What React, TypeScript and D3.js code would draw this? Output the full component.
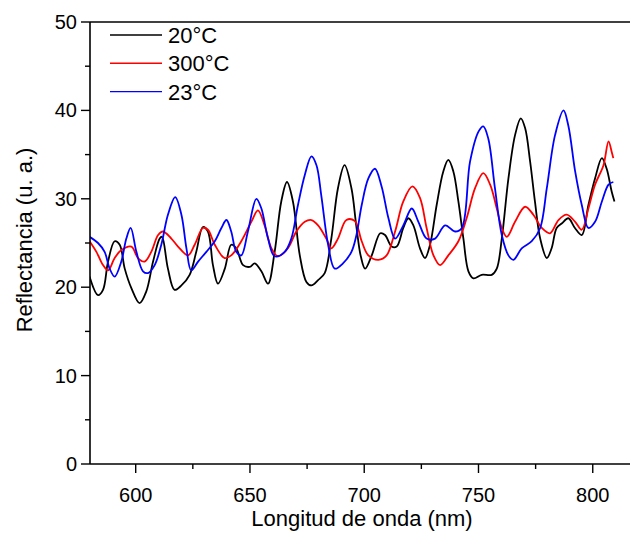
import React from "react";
import * as d3 from "d3";

const xTickValues = [600, 650, 700, 750, 800];
const yTickValues = [0, 10, 20, 30, 40, 50];
const seriesNames = ["20°C", "300°C", "23°C"];
const seriesColors = ["#000000", "#ff0000", "#0000ff"];

// [wavelength nm, reflectance]
const black20: [number, number][] = [
  [579.8, 21.2], [583.5, 19.1], [585.7, 19.7], [587.9, 22.9], [590.8, 25.2], [593, 24.8], [595.2, 22.1],
  [598.1, 19.9], [601.7, 18.2], [604.6, 19.5], [607.6, 22.9], [610.5, 25.5], [611.5, 25.7], [614.1, 22.1],
  [617, 19.7], [620, 20.2], [623.6, 21.4], [626.5, 24], [629.4, 26.8], [631.6, 26.3], [633.8, 22.5],
  [636, 20.4], [639, 22.1], [641.8, 24.8], [644, 24.4], [647, 22.5], [649.9, 22.3], [652.1, 22.7],
  [655, 21.8], [657.9, 20.4], [660.8, 24], [663.7, 29.7], [666.2, 31.9], [668.8, 29.7], [671.8, 23.6],
  [674.7, 20.6], [676.9, 20.2], [679.8, 20.8], [682.7, 21.6], [685.6, 25.5], [688.5, 31.2], [691.4, 33.8],
  [694.4, 31.2], [696.5, 27], [698.5, 23.5], [700.4, 22.1], [703.3, 23.6], [707, 26.1], [709.1, 25.9],
  [712, 24.6], [714.2, 24.6], [717.1, 26.7], [719.3, 27.8], [721.5, 27], [724.4, 24.4], [726.6, 23.3],
  [728.8, 24.8], [731.7, 29.3], [734.6, 33.1], [736.8, 34.4], [739, 33.1], [741.2, 29.7], [743.4, 25.5],
  [745.6, 21.8], [747.8, 21], [751.4, 21.4], [755.8, 21.4], [758, 22.1], [760.2, 25.5], [763.1, 32.3],
  [766, 37.2], [768.5, 39.1], [770.4, 38], [772.6, 34.2], [774.7, 29.7], [777, 25.5], [779.9, 23.3],
  [782, 24.4], [784.2, 26.7], [786.4, 27.2], [789.3, 27.8], [792.2, 26.7], [795.2, 25.9], [798.1, 29.3],
  [801, 32.3], [804, 34.6], [806.1, 33.4], [808.3, 30.8], [809.5, 29.7],
];

const red300: [number, number][] = [
  [579.8, 25.2], [582.8, 24], [585.7, 22.5], [587.9, 21.9], [590.8, 23.3], [593.7, 24.2], [598.1, 24.6],
  [601, 23.3], [603.9, 22.9], [606.8, 24], [609.8, 25.9], [611.9, 26.3], [615.6, 25.5], [618.5, 24.6],
  [622.9, 23.6], [625.8, 24.8], [629.4, 26.7], [631.6, 26.5], [634.6, 24.8], [638.9, 23.3], [641.8, 23.6],
  [646.2, 25.2], [650.6, 27.4], [653.5, 28.7], [656.4, 27], [659.4, 24.4], [662.3, 23.5], [666.6, 24.4],
  [670.3, 26.3], [674, 27.4], [676.9, 27.6], [679.8, 27], [683.4, 25.5], [685.6, 24.4], [688.5, 25.5],
  [692.2, 27.6], [695.8, 27.5], [698.9, 25.2], [701.8, 23.6], [706.2, 23.1], [709.8, 23.6], [713.5, 26.3],
  [717.1, 29.7], [721.1, 31.4], [724.4, 30.1], [727.3, 26.7], [730.3, 23.6], [733.2, 22.5], [736.8, 23.6],
  [741.2, 25.2], [744.8, 27.8], [748.5, 31.2], [752.1, 32.9], [755.1, 31.6], [758, 28.9], [760.2, 26.7],
  [762.4, 25.7], [766, 27.4], [770.4, 29.1], [774, 28.2], [777.7, 26.7], [781.3, 26.1], [785, 27.6],
  [788.6, 28.2], [792.3, 27.4], [795.2, 26.5], [798.1, 28.9], [801, 31.6], [804.7, 33.8], [806.9, 36.5],
  [808.3, 35.3], [809, 34.6],
];

const blue23: [number, number][] = [
  [579.8, 25.7], [583.5, 25], [586.4, 24], [588.6, 22.1], [590.8, 21.2], [593.7, 22.9], [595.9, 25.5],
  [597.8, 26.7], [600.3, 24], [603.2, 21.8], [605.4, 21.6], [608.3, 22.5], [611.2, 24.8], [614.1, 28.2],
  [617.3, 30.2], [620, 28.2], [622.2, 24.4], [624.3, 21.9], [627.3, 22.9], [630.9, 24], [634.6, 25.2],
  [637.5, 26.7], [639.7, 27.6], [641.8, 26.3], [644, 24], [646.2, 23.6], [649.1, 26.3], [652.8, 30],
  [655, 28.9], [657.9, 25.5], [660.8, 23.5], [665.2, 24], [668.1, 25.5], [671, 29.3], [674, 32.7],
  [676.9, 34.8], [679.1, 33.8], [681.2, 30.4], [684.2, 24.8], [687.1, 22.1], [690.7, 22.7], [694.4, 24],
  [696.5, 25.8], [698.9, 29.3], [701.8, 32.3], [704.7, 33.4], [707.6, 31.4], [710.6, 27.8], [713.5, 25.5],
  [717.1, 27], [720.8, 28.9], [723.7, 27.4], [727.3, 25.5], [731, 25.5], [735.4, 27], [739.7, 26.3],
  [742.7, 26.7], [746.3, 34.2], [750, 37.6], [752.1, 38.2], [754.3, 36.8], [757.2, 31.2], [760.2, 25.9],
  [763.1, 23.6], [765.3, 23.1], [768.9, 24.4], [773.3, 25.2], [777, 26.7], [779.9, 31.2], [783.5, 37.2],
  [787.2, 40], [789.3, 38.3], [792.3, 33.1], [795.2, 29.3], [798.1, 26.7], [801, 27.4], [804, 29.7],
  [806.9, 31.6], [809, 31.9],
];

const allSeries = [black20, red300, blue23];

export default function App() {
  const W = 630, H = 533;
  const x = d3.scaleLinear().domain([580, 816.3]).range([90, 630]);
  const y = d3.scaleLinear().domain([0, 50]).range([464, 22]);
  const line = d3
    .line<[number, number]>()
    .x((d) => x(d[0]))
    .y((d) => y(d[1]))
    .curve(d3.curveCatmullRom.alpha(0.5));

  const yMinor = d3.range(5, 50, 10);
  const xMinor = [625, 675, 725, 775];
  const font = "'Liberation Sans', Arial, sans-serif";

  return (
    <svg
      width={W}
      height={H}
      style={{ position: "absolute", left: 0, top: 0, background: "#fff" }}
      fontFamily={font}
    >
      <rect x={0} y={0} width={W} height={H} fill="#fff" />
      <defs>
        <clipPath id="plotclip">
          <rect x={90} y={22} width={540} height={442} />
        </clipPath>
      </defs>
      <g clipPath="url(#plotclip)">
        {allSeries.map((s, i) => (
          <path
            key={i}
            d={line(s) || ""}
            fill="none"
            stroke={seriesColors[i]}
            strokeWidth={1.8}
            strokeLinejoin="round"
          />
        ))}
      </g>
      {/* frame */}
      <line x1={90} x2={630} y1={22} y2={22} stroke="#000" strokeWidth={1.6} />
      <line x1={90} x2={630} y1={464} y2={464} stroke="#000" strokeWidth={1.6} />
      <line x1={90} x2={90} y1={22} y2={464} stroke="#000" strokeWidth={1.6} />
      {/* y ticks */}
      {yTickValues.map((v) => (
        <g key={"y" + v}>
          <line x1={81} x2={90} y1={y(v)} y2={y(v)} stroke="#000" strokeWidth={1.4} />
          <text x={77} y={y(v) + 7} textAnchor="end" fontSize={20} fill="#000">
            {v}
          </text>
        </g>
      ))}
      {yMinor.map((v) => (
        <line key={"ym" + v} x1={85} x2={90} y1={y(v)} y2={y(v)} stroke="#000" strokeWidth={1.4} />
      ))}
      {/* x ticks */}
      {xTickValues.map((v) => (
        <g key={"x" + v}>
          <line x1={x(v)} x2={x(v)} y1={464} y2={473} stroke="#000" strokeWidth={1.4} />
          <text x={x(v)} y={502} textAnchor="middle" fontSize={20} fill="#000">
            {v}
          </text>
        </g>
      ))}
      {xMinor.map((v) => (
        <line key={"xm" + v} x1={x(v)} x2={x(v)} y1={464} y2={469} stroke="#000" strokeWidth={1.4} />
      ))}
      {/* axis titles */}
      <text x={362} y={526} textAnchor="middle" fontSize={22} fill="#000">
        Longitud de onda (nm)
      </text>
      <text
        transform={`translate(32,240) rotate(-90)`}
        textAnchor="middle"
        fontSize={22}
        fill="#000"
      >
        Reflectancia (u. a.)
      </text>
      {/* legend */}
      {seriesNames.map((n, i) => (
        <g key={n}>
          <line
            x1={110}
            x2={162}
            y1={35 + i * 28.3}
            y2={35 + i * 28.3}
            stroke={seriesColors[i]}
            strokeWidth={1.4}
          />
          <text x={168} y={35 + i * 28.3 + 8} fontSize={22} fill="#000">
            {n}
          </text>
        </g>
      ))}
    </svg>
  );
}
